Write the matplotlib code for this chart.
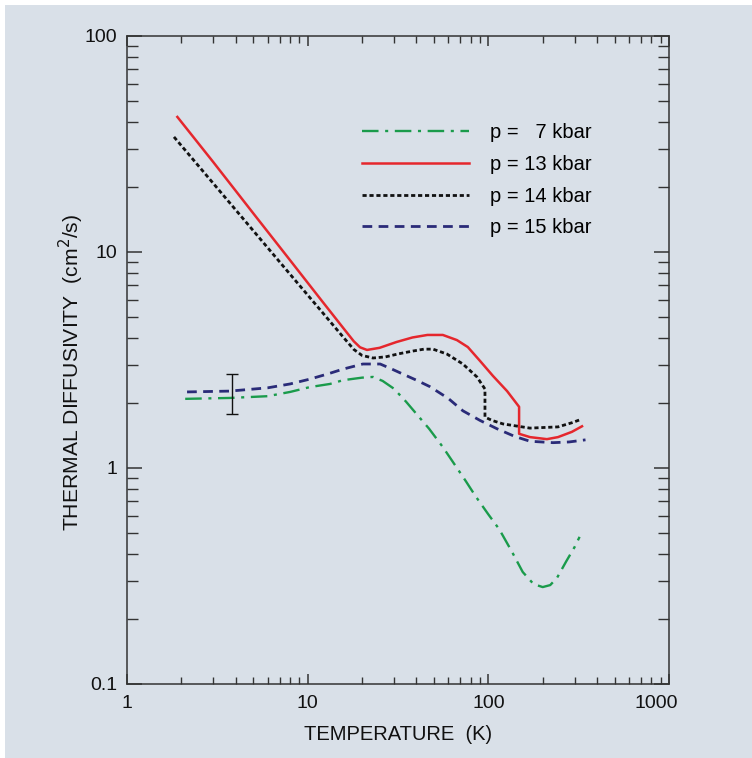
import matplotlib
matplotlib.use("Agg")
import matplotlib.pyplot as plt
from matplotlib.patches import Rectangle
from matplotlib.transforms import ScaledTranslation

plt.rcParams['font.family'] = ['Liberation Sans', 'DejaVu Sans']

# --- data (temperature K, diffusivity cm^2/s) ---
t_7 = [2.1, 3.7, 6, 8, 10.3, 13.3, 15.7, 20, 23, 26, 30, 35, 40, 47, 56, 66, 75,
       85, 100, 115, 135, 155, 178, 200, 220, 240, 270, 300, 320]
d_7 = [2.09, 2.11, 2.15, 2.25, 2.37, 2.45, 2.55, 2.62, 2.64, 2.53, 2.33, 2.03, 1.78,
       1.52, 1.25, 1.02, 0.87, 0.74, 0.61, 0.52, 0.41, 0.33, 0.29, 0.281, 0.287,
       0.31, 0.37, 0.43, 0.48]

t_13 = [1.9, 3, 5, 8, 12, 16, 18, 19.5, 21.3, 25, 31, 38, 46, 56, 67, 77, 90,
        106, 127, 148, 148, 170, 211, 243, 290, 330]
d_13 = [42.2, 26.1, 15.1, 9.15, 5.93, 4.37, 3.86, 3.62, 3.52, 3.6, 3.83, 4.02,
        4.13, 4.13, 3.91, 3.63, 3.13, 2.67, 2.27, 1.92, 1.44, 1.39, 1.36, 1.39,
        1.47, 1.56]

t_14 = [1.82, 3, 5, 8, 12, 16, 18, 20, 23, 27, 32, 38.3, 44, 49.4, 59, 72.3,
        86.5, 95.8, 95.8, 105, 120.5, 170, 243, 290, 320]
d_14 = [34.1, 20.8, 12.55, 7.88, 5.28, 3.97, 3.54, 3.32, 3.23, 3.27, 3.38, 3.48,
        3.55, 3.55, 3.37, 3.03, 2.64, 2.32, 1.72, 1.66, 1.60, 1.53, 1.55, 1.62,
        1.67]

t_15 = [2.15, 3.7, 6, 8, 10.3, 13, 15.7, 20.2, 25.2, 29, 33.7, 40, 47.5, 60,
        72.3, 90, 111.6, 140, 170, 228, 280, 345]
d_15 = [2.25, 2.27, 2.35, 2.45, 2.58, 2.73, 2.87, 3.03, 3.03, 2.88, 2.72, 2.55,
        2.38, 2.1, 1.84, 1.66, 1.52, 1.40, 1.33, 1.31, 1.32, 1.35]

# error bar on the low-temperature data
err_t = [3.8]
err_d = [2.2]
err_lo = [0.42]
err_hi = [0.52]

labels = ['p =   7 kbar', 'p = 13 kbar', 'p = 14 kbar', 'p = 15 kbar']

bg = '#d9e0e8'

fig = plt.figure(figsize=(7.52, 7.58), dpi=100)
fig.patch.set_facecolor('white')
fig.patches.append(Rectangle((5 / 752, 0), 1, 1 - 5 / 758, transform=fig.transFigure,
                             facecolor=bg, edgecolor='none', zorder=-10))

ax = fig.add_axes([127 / 752, 1 - 684 / 758, 542 / 752, 648 / 758])
ax.set_facecolor(bg)

ax.plot(t_7, d_7, color='#1a9b4b', lw=1.7, linestyle=(0, (7.0, 2.8, 1.3, 2.8)),
        label=labels[0])
ax.plot(t_13, d_13, color='#e5272d', lw=1.8, linestyle='-', label=labels[1])
ax.plot(t_14, d_14, color='#111111', lw=2.0, linestyle=(0, (1.5, 1.0)),
        label=labels[2])
ax.plot(t_15, d_15, color='#2a2b78', lw=2.0, linestyle=(0, (3.5, 2.3)),
        label=labels[3])

ax.errorbar(err_t, err_d, yerr=[err_lo, err_hi], fmt='none', ecolor='#111111',
            elinewidth=1, capsize=4, capthick=1)

ax.set_xscale('log')
ax.set_yscale('log')
ax.set_xlim(1, 1000)
ax.set_ylim(0.1, 100)

ax.set_xticks([1, 10, 100, 1000])
ax.set_xticklabels(['1', '10', '100', '1000'])
ax.set_yticks([0.1, 1, 10, 100])
ax.set_yticklabels(['0.1', '1', '10', '100'])

for s in ax.spines.values():
    s.set_color('#333333')
    s.set_linewidth(1.1)

ax.tick_params(axis='both', which='both', direction='in', top=True, right=True,
               colors='#333333', labelcolor='#111111', labelsize=14)
ax.tick_params(axis='x', which='major', length=7, width=1.1, pad=8)
ax.tick_params(axis='x', which='minor', length=5, width=1.0)
ax.tick_params(axis='y', which='major', length=11, width=1.1, pad=7)
ax.tick_params(axis='y', which='minor', length=8, width=1.0)

# the "1000" label sits a little left of its tick in the original
last = ax.get_xticklabels()[-1]
last.set_transform(last.get_transform() + ScaledTranslation(-0.13, 0, fig.dpi_scale_trans))

ax.set_xlabel('TEMPERATURE  (K)', fontsize=14.5, color='#111111', labelpad=9)
ax.set_ylabel('THERMAL DIFFUSIVITY  (cm$^2$/s)', fontsize=15.2, color='#111111')
ax.yaxis.set_label_coords(-0.076, 0.481)

ax.legend(loc='upper left', bbox_to_anchor=(0.434, 0.866), frameon=False,
          fontsize=14.5, handlelength=5.3, handletextpad=1.05, labelspacing=0.64,
          borderpad=0, borderaxespad=0)

fig.savefig('out.png', dpi=100, facecolor=fig.get_facecolor())
